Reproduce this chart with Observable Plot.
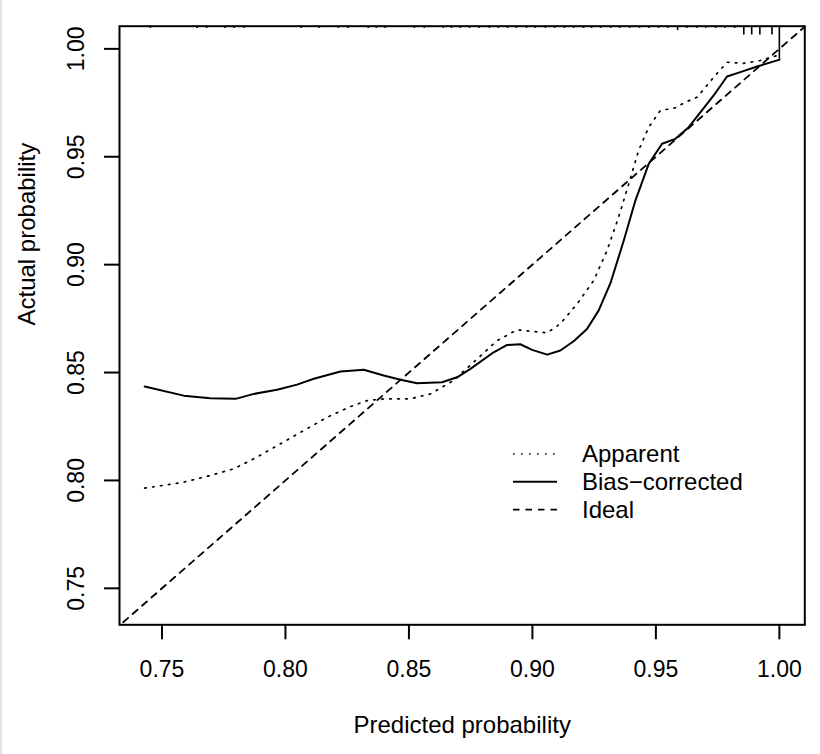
<!DOCTYPE html>
<html>
<head>
<meta charset="utf-8">
<script src="https://cdn.jsdelivr.net/npm/d3@7"></script>
<script src="https://cdn.jsdelivr.net/npm/@observablehq/plot@0.6"></script>
<style>
  html, body { margin: 0; padding: 0; background: #fff; }
  #wrap { position: relative; width: 820px; height: 754px; overflow: hidden; font-family: "Liberation Sans", Arial, sans-serif; }
  #edge { position: absolute; left: 0; top: 0; width: 2px; height: 754px; background: #e2e2e2; }
  #legend { position: absolute; left: 510px; top: 440px; }
</style>
</head>
<body>
<div id="wrap">
  <div id="chart"></div>
  <div id="edge"></div>
  <svg id="legend" width="280" height="84"></svg>
</div>
<script>
// ---- data ----
const xTicks = [0.75, 0.80, 0.85, 0.90, 0.95, 1.00];
const yTicks = [0.75, 0.80, 0.85, 0.90, 0.95, 1.00];
const xDomain = [0.7328, 1.0103];
const yDomain = [0.7331, 1.0105];

const apparentX = [0.7430,0.7588,0.7696,0.7791,0.7885,0.7980,0.8074,0.8169,0.8263,0.8331,0.8398,0.8506,0.8587,0.8681,0.8762,0.8857,0.8938,0.9005,0.9060,0.9113,0.9181,0.9248,0.9302,0.9349,0.9390,0.9430,0.9471,0.9518,0.9579,0.9620,0.9667,0.9734,0.9788,0.9855,0.9923,0.9991];
const apparentY = [0.7964,0.7992,0.8023,0.8054,0.8108,0.8170,0.8231,0.8293,0.8342,0.8370,0.8378,0.8378,0.8401,0.8463,0.8548,0.8648,0.8698,0.8690,0.8684,0.8726,0.8818,0.8926,0.9065,0.9220,0.9374,0.9529,0.9637,0.9714,0.9727,0.9753,0.9776,0.9868,0.9938,0.9933,0.9946,0.9969];

const biasX = [0.7430,0.7588,0.7696,0.7798,0.7872,0.7966,0.8047,0.8115,0.8223,0.8317,0.8398,0.8466,0.8533,0.8634,0.8695,0.8749,0.8843,0.8898,0.8951,0.8999,0.9060,0.9113,0.9167,0.9221,0.9268,0.9316,0.9370,0.9417,0.9471,0.9525,0.9579,0.9633,0.9680,0.9734,0.9788,0.9842,0.9910,1.0001];
const biasY = [0.8435,0.8393,0.8381,0.8378,0.8401,0.8420,0.8444,0.8471,0.8505,0.8513,0.8486,0.8467,0.8450,0.8455,0.8478,0.8517,0.8594,0.8628,0.8631,0.8605,0.8583,0.8602,0.8645,0.8702,0.8787,0.8914,0.9112,0.9297,0.9467,0.9560,0.9583,0.9637,0.9706,0.9784,0.9872,0.9892,0.9918,0.9950];

const idealLine = [0.70, 1.05];

const rugX = [0.7453,0.7642,0.7681,0.7755,0.7792,0.7833,0.8064,0.8137,0.8214,0.8254,0.8335,0.8368,0.8404,0.8522,0.8562,0.8639,0.8672,0.8708,0.8745,0.8785,0.8826,0.8862,0.8899,0.8935,0.8976,0.9012,0.9053,0.9090,0.9130,0.9167,0.9207,0.9240,0.9276,0.9317,0.9353,0.9394,0.9434,0.9471,0.9511,0.9548,0.9588,0.9625,0.9665,0.9702,0.9742,0.9779,0.9819,0.9856,0.9888,0.9921,0.9970,1.0000];
const rugCount = [1,1,1,1,1,1,1,1,1,1,1,1,1,1,1,1,1,1,1,1,1,1,1,1,1,1,1,1,1,1,1,1,1,1,1,1,1,1,1,1,2,1,1,1,1,1,1,4,4,4,4,15];

const legendLabels = ["Apparent", "Bias\u2212corrected", "Ideal"];

// ---- build ----
const apparent = apparentX.map((x, i) => ({x, y: apparentY[i]}));
const bias = biasX.map((x, i) => ({x, y: biasY[i]}));
const rug = rugX.map((x, i) => ({x, n: rugCount[i]}));

const W = 820, H = 754;
const mL = 119, mR = 15.7, mT = 25.7, mB = 129.7;
const pxPerUnitY = (H - mT - mB) / (yDomain[1] - yDomain[0]);
const rugPx = 2.2;
const font = '"Liberation Sans", Arial, sans-serif';
const fmt = d3.format(".2f");
const dotted = "1.6,6.4";
const dashed = "6.5,6";

const chart = Plot.plot({
  width: W, height: H,
  marginLeft: mL, marginRight: mR, marginTop: mT, marginBottom: mB,
  x: {domain: xDomain},
  y: {domain: yDomain},
  style: {fontFamily: font, fontSize: "23px", color: "black", background: "white"},
  marks: [
    Plot.line(idealLine, {x: d => d, y: d => d, stroke: "black", strokeWidth: 1.8, strokeDasharray: dashed, clip: true}),
    Plot.line(apparent, {x: "x", y: "y", stroke: "black", strokeWidth: 1.7, strokeDasharray: dotted}),
    Plot.line(bias, {x: "x", y: "y", stroke: "black", strokeWidth: 2}),
    Plot.ruleX(rug, {x: "x", y1: () => yDomain[1], y2: d => yDomain[1] - d.n * rugPx / pxPerUnitY, stroke: "black", strokeWidth: 1.6}),
    Plot.frame({stroke: "black", strokeWidth: 2}),
    Plot.axisX({ticks: xTicks, tickFormat: fmt, tickSize: 15, tickPadding: 30, lineAnchor: "middle", strokeWidth: 2, fontSize: 23, label: null}),
    Plot.axisY({ticks: yTicks, tickFormat: fmt, tickSize: 15, tickPadding: 28, tickRotate: -90, textAnchor: "middle", lineAnchor: "middle", strokeWidth: 2, fontSize: 23, label: null}),
    Plot.text(["Predicted probability"], {text: d => d, frameAnchor: "bottom", dy: 100.5, lineAnchor: "middle", fontSize: 24}),
    Plot.text(["Actual probability"], {text: d => d, frameAnchor: "left", dx: -92, rotate: -90, lineAnchor: "middle", fontSize: 24})
  ]
});
document.getElementById("chart").appendChild(chart);

// ---- legend ----
const dashes = [dotted, null, dashed];
const lg = d3.select("#legend");
legendLabels.forEach((lab, i) => {
  const cy = 14 + i * 27.8;
  const ln = lg.append("line").attr("x1", 3).attr("x2", 47).attr("y1", cy).attr("y2", cy)
    .attr("stroke", "black").attr("stroke-width", i === 1 ? 2 : 1.7);
  if (dashes[i]) ln.attr("stroke-dasharray", dashes[i]);
  lg.append("text").attr("x", 72).attr("y", cy).attr("dy", "0.35em")
    .attr("font-family", font).attr("font-size", 24).attr("fill", "black").text(lab);
});
</script>
</body>
</html>
